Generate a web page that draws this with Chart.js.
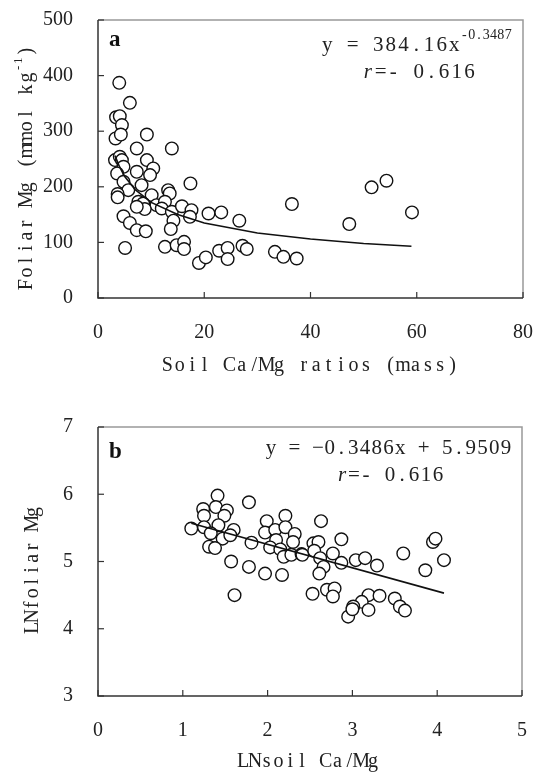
<!DOCTYPE html>
<html>
<head>
<meta charset="utf-8">
<script src="https://cdn.jsdelivr.net/npm/chart.js@4.4.0/dist/chart.umd.min.js"></script>
<style>
html, body { margin: 0; padding: 0; background: #fff; }
#wrap { position: relative; width: 536px; height: 773px; }
#boxA { position: absolute; left: 0; top: 0; width: 536px; height: 390px; }
#boxB { position: absolute; left: 0; top: 390px; width: 536px; height: 383px; }
</style>
</head>
<body>
<div id="wrap">
    <div id="boxA"><canvas id="chartA" width="536" height="390"></canvas></div>
    <div id="boxB"><canvas id="chartB" width="536" height="383"></canvas></div>
</div>
<script>
// panel a: soil Ca/Mg ratio vs foliar Mg
const soilRatio = [4, 6, 3.4, 4.1, 4.5, 3.3, 4.3, 9.2, 7.3, 13.9, 3.2, 4.1, 4.5, 9.2, 4.8, 7.3, 10.4, 9.8, 3.6,
    17.4, 4.8, 8.2, 5.7, 13.2, 13.5, 3.7, 3.7, 10.1, 7.6, 8.5, 11, 12.6, 12.0, 8.8, 7.3, 13.9, 15.8, 17.6, 17.3,
    14.2, 20.8, 23.2, 26.6, 4.8, 6.0, 7.3, 9.0, 13.7, 5.1, 12.6, 14.8, 16.2, 16.2, 19.0, 20.3, 22.8, 24.4, 24.4,
    27.2, 28.0, 36.5, 33.3, 34.9, 37.4, 47.3, 51.5, 54.3, 59.1];
const foliarMg = [387, 351, 325, 327, 311, 287, 294, 294, 269, 269, 248, 254, 248, 248, 236, 227, 233, 221, 224,
    206, 209, 203, 194, 194, 188, 187, 181, 185, 173, 170, 167, 173, 161, 160, 164, 155, 165, 158, 146,
    139, 152, 154, 139, 147, 135, 122, 120, 124, 90, 92, 95, 101, 88, 63, 73, 85, 90, 70,
    94, 88, 169, 83, 74, 71, 133, 199, 211, 154];
const fitRatio = [3.2, 4, 5, 7, 10, 15, 20, 30, 40, 50, 59];
const fitMg = [256, 237, 219, 195, 172, 150, 135, 117, 106, 98, 93];

// panel b: log values
const lnSoil = [1.41, 1.78, 1.24, 1.39, 1.52, 1.25, 1.49, 1.10, 1.25, 1.42, 1.60, 1.33, 1.47, 1.56, 1.31, 1.38,
    1.81, 1.99, 2.21, 1.97, 2.09, 2.21, 2.32, 2.10, 2.03, 2.15, 2.19, 2.28, 2.40, 2.30, 1.57, 1.78, 1.97, 2.17,
    1.61, 2.63, 2.54, 2.60, 2.87, 2.41, 2.55, 2.77, 2.62, 2.87, 3.04, 3.15, 3.29, 2.66, 2.61, 3.60, 3.95, 3.98,
    4.08, 3.86, 2.53, 2.70, 2.79, 2.77, 3.19, 3.32, 3.11, 3.01, 3.19, 3.50, 3.56, 3.62, 2.95, 3.00];
const lnFoliar = [5.98, 5.88, 5.78, 5.81, 5.76, 5.68, 5.68, 5.49, 5.51, 5.54, 5.47, 5.42, 5.34, 5.39, 5.22, 5.20,
    5.28, 5.60, 5.68, 5.43, 5.47, 5.51, 5.41, 5.32, 5.21, 5.18, 5.07, 5.10, 5.11, 5.29, 5.00, 4.92, 4.82, 4.80,
    4.50, 5.60, 5.27, 5.29, 5.33, 5.10, 5.16, 5.12, 5.05, 4.98, 5.02, 5.05, 4.94, 4.92, 4.82, 5.12, 5.29, 5.34,
    5.02, 4.87, 4.52, 4.58, 4.60, 4.48, 4.50, 4.49, 4.40, 4.33, 4.28, 4.45, 4.33, 4.27, 4.18, 4.29];
const lnFitX = [1.1, 4.08];
const lnFitY = [5.57, 4.53];

const xTicksA = [0, 20, 40, 60, 80];
const yTicksA = [0, 100, 200, 300, 400, 500];
const xTicksB = [0, 1, 2, 3, 4, 5];
const yTicksB = [3, 4, 5, 6, 7];

const SERIF = "'Liberation Serif', 'DejaVu Serif', serif";
const INK = '#222';

// draws text with a fixed advance per character, like the original's CJK font
function drawMono(ctx, text, x, y, pitch) {
    ctx.textAlign = 'center';
    ctx.textBaseline = 'middle';
    [...text].forEach((ch, i) => ctx.fillText(ch, x + pitch * (i + 0.5), y));
    return x + pitch * [...text].length;
}

function drawRuns(ctx, runs, x, y) {
    runs.forEach((r) => {
        ctx.font = r.font;
        x = drawMono(ctx, r.text, x, y + (r.dy || 0), r.pitch);
    });
}

function runsWidth(runs) {
    return runs.reduce((w, r) => w + r.pitch * [...r.text].length, 0);
}

function framePlugin(cfg) {
    return {
        id: 'frame' + cfg.tag,
        afterDatasetsDraw(chart) {
            const { ctx, chartArea: a, scales } = chart;
            ctx.save();
            // top and right edges are lighter in the original
            ctx.lineWidth = 1.5;
            ctx.strokeStyle = '#999';
            ctx.beginPath();
            ctx.moveTo(a.left, a.top); ctx.lineTo(a.right, a.top); ctx.lineTo(a.right, a.bottom);
            ctx.stroke();
            ctx.strokeStyle = '#333';
            ctx.beginPath();
            ctx.moveTo(a.left, a.top); ctx.lineTo(a.left, a.bottom); ctx.lineTo(a.right, a.bottom);
            ctx.stroke();
            // inward tick marks
            ctx.lineWidth = 1.2;
            scales.x.ticks.forEach((t) => {
                const px = scales.x.getPixelForValue(t.value);
                ctx.beginPath(); ctx.moveTo(px, a.bottom); ctx.lineTo(px, a.bottom - 6); ctx.stroke();
            });
            scales.y.ticks.forEach((t) => {
                const py = scales.y.getPixelForValue(t.value);
                ctx.beginPath(); ctx.moveTo(a.left, py); ctx.lineTo(a.left + 6, py); ctx.stroke();
            });

            // panel letter
            ctx.font = `bold 23px ${SERIF}`;
            ctx.textAlign = 'left';
            ctx.textBaseline = 'middle';
            ctx.fillStyle = '#111';
            ctx.fillText(cfg.letter, 109, cfg.letterY);
            ctx.fillStyle = INK;

            // equation + r
            drawRuns(ctx, cfg.eq, cfg.eqX, cfg.eqY);
            drawRuns(ctx, cfg.rRuns, cfg.rX, cfg.rY);

            // x title
            const xw = runsWidth(cfg.xTitle);
            drawRuns(ctx, cfg.xTitle, cfg.xTitleX - xw / 2, cfg.xTitleY);
            // y title
            const yw = runsWidth(cfg.yTitle);
            ctx.translate(cfg.yTitleX, cfg.yTitleY);
            ctx.rotate(-Math.PI / 2);
            drawRuns(ctx, cfg.yTitle, -yw / 2, 0);
            ctx.restore();
        }
    };
}

const F20 = `20px ${SERIF}`;
const F21 = `21px ${SERIF}`;

function makeChart(id, opt) {
    const ctx = document.getElementById(id).getContext('2d');
    return new Chart(ctx, {
        type: 'scatter',
        data: {
            datasets: [
                {
                    type: 'line',
                    data: opt.fitX.map((x, i) => ({ x, y: opt.fitY[i] })),
                    borderColor: '#111',
                    borderWidth: 1.6,
                    pointRadius: 0,
                    fill: false,
                    order: 0
                },
                {
                    data: opt.xs.map((x, i) => ({ x, y: opt.ys[i] })),
                    pointStyle: 'circle',
                    pointRadius: 6.3,
                    pointBackgroundColor: '#fff',
                    pointBorderColor: '#111',
                    pointBorderWidth: 1.4,
                    order: 1
                }
            ]
        },
        options: {
            responsive: false,
            animation: false,
            events: [],
            layout: { padding: { top: opt.padTop, right: opt.padRight, left: 0, bottom: 0 } },
            plugins: { legend: { display: false }, tooltip: { enabled: false } },
            scales: {
                x: {
                    type: 'linear',
                    min: opt.xTicks[0],
                    max: opt.xTicks[opt.xTicks.length - 1],
                    afterBuildTicks: (s) => { s.ticks = opt.xTicks.map((v) => ({ value: v })); },
                    afterFit: (s) => { s.height = opt.xHeight; s.paddingLeft = 0; s.paddingRight = 0; },
                    grid: { display: false },
                    border: { display: false },
                    ticks: { color: INK, font: { family: SERIF, size: 20 }, padding: opt.xPad, maxRotation: 0 }
                },
                y: {
                    type: 'linear',
                    min: opt.yTicks[0],
                    max: opt.yTicks[opt.yTicks.length - 1],
                    afterBuildTicks: (s) => { s.ticks = opt.yTicks.map((v) => ({ value: v })); },
                    afterFit: (s) => { s.width = 98; s.paddingTop = 0; s.paddingBottom = 0; },
                    grid: { display: false },
                    border: { display: false },
                    ticks: { color: INK, font: { family: SERIF, size: 20 }, padding: 17 }
                }
            }
        },
        plugins: [framePlugin(opt.frame)]
    });
}

makeChart('chartA', {
    xs: soilRatio, ys: foliarMg, fitX: fitRatio, fitY: fitMg,
    xTicks: xTicksA, yTicks: yTicksA,
    padTop: 20, padRight: 13, xHeight: 92, xPad: 15,
    frame: {
        tag: 'A', letter: 'a', letterY: 40,
        eq: [
            { text: 'y = 384.16x', font: F21, pitch: 12.7 },
            { text: '-0.3487', font: `14px ${SERIF}`, pitch: 7.3, dy: -10 }
        ],
        eqX: 321, eqY: 45,
        rRuns: [
            { text: 'r', font: `italic 21px ${SERIF}`, pitch: 12.7 },
            { text: '=- 0.616', font: F21, pitch: 12.7 }
        ],
        rX: 361.5, rY: 72,
        xTitle: [{ text: 'Soil Ca/Mg ratios (mass)', font: F20, pitch: 12.4 }],
        xTitleX: 310, xTitleY: 366,
        yTitle: [
            { text: 'Foliar Mg (mmol kg', font: F20, pitch: 12.2 },
            { text: '-1', font: `13px ${SERIF}`, pitch: 7, dy: -8 },
            { text: ')', font: F20, pitch: 12.2 }
        ],
        yTitleX: 27, yTitleY: 168
    }
});

makeChart('chartB', {
    xs: lnSoil, ys: lnFoliar, fitX: lnFitX, fitY: lnFitY,
    xTicks: xTicksB, yTicks: yTicksB,
    padTop: 37, padRight: 14, xHeight: 77, xPad: 15,
    frame: {
        tag: 'B', letter: 'b', letterY: 62,
        eq: [{ text: 'y = \u22120.3486x + 5.9509', font: F21, pitch: 11.75 }],
        eqX: 265, eqY: 58,
        rRuns: [
            { text: 'r', font: `italic 21px ${SERIF}`, pitch: 12 },
            { text: '=- 0.616', font: F21, pitch: 12 }
        ],
        rX: 336, rY: 85,
        xTitle: [{ text: 'LNsoil Ca/Mg', font: F20, pitch: 11.8 }],
        xTitleX: 308, xTitleY: 372,
        yTitle: [{ text: 'LNfoliar Mg', font: F20, pitch: 11.6 }],
        yTitleX: 33, yTitleY: 180
    }
});
</script>
</body>
</html>
